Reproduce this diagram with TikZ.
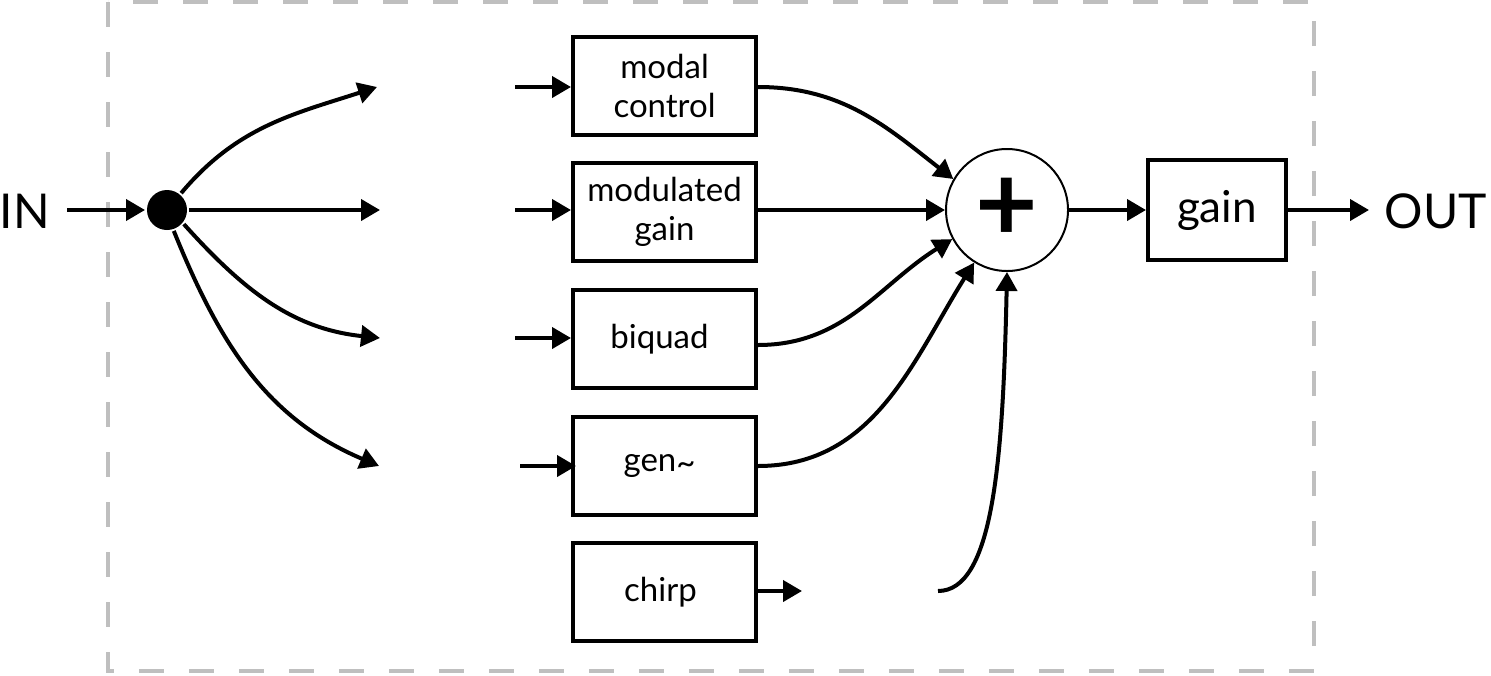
\documentclass[tikz,border=0pt]{standalone}
\usepackage{fontspec}
\setmainfont{Lato}
\usetikzlibrary{arrows.meta}
\begin{document}
\begin{tikzpicture}[x=0.5pt,y=0.5pt,
  line width=2pt,
  arr/.style={-{Triangle[length=9.5pt,width=10.5pt]}},
  blk/.style={draw,line width=2pt,minimum width=91.5pt,minimum height=49pt,inner sep=0pt,align=center,font=\fontsize{16.5}{19.5}\selectfont},
  lbl/.style={font=\fontsize{24}{24}\selectfont,inner sep=0pt}]
\useasboundingbox (0,0) rectangle (1491,-675);
\draw[black!25,line width=2pt,dash pattern=on 12.5pt off 12.5pt] (108,-2) rectangle (1314,-671);

\node[lbl] (in) at (25,-211) {IN};
\node[circle,fill=black,minimum size=20pt,inner sep=0pt] (dot) at (167,-210) {};
\coordinate (ins) at (67,-210);
\draw[arr] (ins) -- (dot.west);

\coordinate (t1) at (377,-87);
\coordinate (t2) at (380,-210);
\coordinate (t3) at (380,-338);
\coordinate (t4) at (379,-466);
\draw[arr] (dot.50) to[out=50,in=198] (t1);
\draw[arr] (dot.east) -- (t2);
\draw[arr] (dot.-40) to[out=-48,in=174] (t3);
\draw[arr] (dot.-72) to[out=-68,in=157] (t4);

\node[blk] (mc) at (664.5,-86) {modal\\control};
\node[blk] (mg) at (664.5,-212) {modulated\\gain};
\node[blk] (bq) at (664.5,-339) {biquad\kern5pt};
\node[blk] (gen) at (664.5,-466) {gen\raisebox{-0.15ex}{\textasciitilde}\kern5pt};
\node[blk] (ch) at (664.5,-592) {chirp\kern4pt};

\coordinate (a1) at (515,-87);
\coordinate (a2) at (515,-210);
\coordinate (a3) at (515,-338);
\coordinate (a4) at (520,-466);
\draw[arr] (a1) -- (a1 -| mc.west);
\draw[arr] (a2) -- (a2 -| mg.west);
\draw[arr] (a3) -- (a3 -| bq.west);
\draw[arr] (a4) -- ([xshift=2.5pt]a4 -| gen.west);

\node[circle,draw,line width=1pt,minimum size=61pt,inner sep=0pt,font=\fontsize{54}{54}\bfseries] (sum) at (1007,-210) {+};

\draw[arr] (mc.east |- 0,-87) to[out=0,in=142] (sum.150);
\draw[arr] (mg.east |- sum.west) -- (sum.west);
\draw[arr] (bq.east |- 0,-345) to[out=0,in=212] (sum.208);
\draw[arr] (gen.east) to[out=0,in=238] (sum.238);

\coordinate (co) at (802,-591);
\draw[arr] (ch.east |- co) -- (co);
\coordinate (c1) at (938,-591);
\draw[arr] (c1) .. controls +(55,0) and +(-4,-190) .. (sum.south);

\node[draw,line width=2pt,minimum width=69pt,minimum height=50pt,inner sep=0pt,font=\fontsize{22}{22}\selectfont] (gb) at (1217,-210) {gain};
\draw[arr] (sum.east) -- (gb.west);
\coordinate (o1) at (1369,-210);
\draw[arr] (gb.east) -- (o1);
\node[lbl] (out) at (1436,-211) {OUT};
\end{tikzpicture}
\end{document}
